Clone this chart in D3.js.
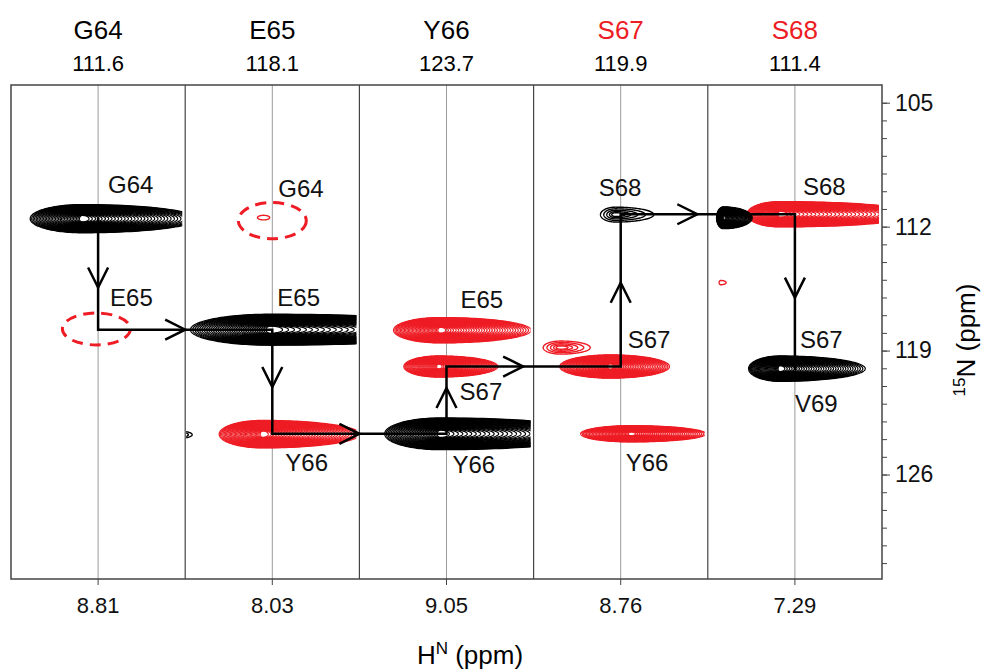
<!DOCTYPE html>
<html>
<head>
<meta charset="utf-8">
<script src="https://cdn.jsdelivr.net/npm/d3@7"></script>
<style>
  body { margin: 0; background: #fff; }
  text { font-family: "Liberation Sans", Arial, sans-serif; }
</style>
</head>
<body>
<div id="chart"></div>
<script>
// Strip (residue) data
const residues = ["G64", "E65", "Y66", "S67", "S68"];
const residueN = [111.6, 118.1, 123.7, 119.9, 111.4];
const residueH = [8.81, 8.03, 9.05, 8.76, 7.29];
const highlighted = ["S67", "S68"];

// Y axis ticks (15N, ppm)
const nTicks = [105, 112, 119, 126];

// Cross peaks: strip index, HN centre, 15N centre, extent left/right (HN ppm), half height (15N ppm)
const peaks = [
  { strip: 0, h: 8.90, n: 111.55, left: 0.30, right: 0.66, half: 0.80, kind: "black" },
  { strip: 1, h: 8.04, n: 117.82, left: 0.46, right: 1.20, half: 0.88, kind: "black" },
  { strip: 1, h: 8.085, n: 123.72, left: 0.25, right: 0.56, half: 0.78, kind: "red" },
  { strip: 1, h: 8.59, n: 123.75, left: 0.10, right: 0.10, half: 0.23, kind: "black", weak: true },
  { strip: 1, h: 8.08, n: 111.49, left: 0.035, right: 0.035, half: 0.13, kind: "red", weak: true },
  { strip: 2, h: 9.084, n: 117.85, left: 0.27, right: 0.52, half: 0.72, kind: "red" },
  { strip: 2, h: 9.095, n: 119.9, left: 0.20, right: 0.34, half: 0.60, kind: "red" },
  { strip: 2, h: 9.085, n: 123.7, left: 0.32, right: 0.90, half: 0.90, kind: "black" },
  { strip: 3, h: 8.79, n: 111.32, left: 0.086, right: 0.22, half: 0.42, kind: "black", weak: true },
  { strip: 3, h: 8.82, n: 119.9, left: 0.29, right: 0.34, half: 0.66, kind: "red" },
  { strip: 3, h: 9.105, n: 118.83, left: 0.10, right: 0.17, half: 0.37, kind: "red", weak: true },
  { strip: 3, h: 8.70, n: 123.7, left: 0.29, right: 0.43, half: 0.46, kind: "red" },
  { strip: 4, h: 7.376, n: 111.3, left: 0.19, right: 0.80, half: 0.72, kind: "red" },
  { strip: 4, h: 7.70, n: 111.5, left: 0.04, right: 0.165, half: 0.62, kind: "black" },
  { strip: 4, h: 7.715, n: 115.16, left: 0.01, right: 0.03, half: 0.12, kind: "red", weak: true },
  { strip: 4, h: 7.376, n: 120.02, left: 0.18, right: 0.49, half: 0.72, kind: "black" }
];

// Missing (expected) peaks, dashed circles
const missing = [
  { strip: 0, h: 8.82, n: 117.78, rx: 0.195, ry: 0.90 },
  { strip: 1, h: 8.03, n: 111.66, rx: 0.195, ry: 1.02 }
];

// Sequential walk (strip, HN, 15N) and where along each leg the arrowhead sits
const walk = [
  [0, 8.81, 111.55], [0, 8.81, 117.82], [1, 8.03, 117.82], [1, 8.03, 123.7],
  [2, 9.05, 123.7], [2, 9.05, 119.9], [3, 8.76, 119.9], [3, 8.76, 111.3],
  [4, 7.29, 111.3], [4, 7.29, 120.02]
];
const arrowAt = [0.62, 0.5, 0.55, 0.5, 0.68, 0.44, 0.55, 0.44, 0.54];

// Peak labels: strip, text, HN (text start), 15N (baseline)
const labels = [
  [0, "G64", 8.753, 110.08], [0, "E65", 8.741, 116.46],
  [1, "G64", 7.996, 110.31], [1, "E65", 8.001, 116.46], [1, "Y66", 7.955, 125.78],
  [2, "E65", 8.97, 116.58], [2, "S67", 8.975, 121.77], [2, "Y66", 9.016, 125.9],
  [3, "S68", 8.886, 110.25], [3, "S67", 8.72, 118.83], [3, "Y66", 8.731, 125.78],
  [4, "S68", 7.244, 110.19], [4, "S67", 7.261, 118.83], [4, "V69", 7.29, 122.45]
];

const width = 985, height = 672;
const plot = { left: 11, right: 882, top: 85, bottom: 579 };
const red = "#ee1c24";
const colour = d3.scaleOrdinal().domain(["black", "red"]).range(["#000", red]);

const svg = d3.select("#chart").append("svg")
  .attr("width", width)
  .attr("height", height);

const stripBand = d3.scaleBand()
  .domain(d3.range(residues.length))
  .range([plot.left, plot.right]);
const bw = stripBand.bandwidth();

// each strip shows 1 ppm of HN, high ppm on the left
const xStrip = residueH.map((hn, i) => d3.scaleLinear()
  .domain([hn + 0.5, hn - 0.5])
  .range([stripBand(i), stripBand(i) + bw]));

const y = d3.scaleLinear().domain([104, 131.9]).range([plot.top, plot.bottom]);

// clip each strip
const defs = svg.append("defs");
residues.forEach((r, i) => {
  defs.append("clipPath").attr("id", "clip" + i)
    .append("rect")
    .attr("x", stripBand(i) + 1)
    .attr("y", plot.top)
    .attr("width", bw - 4)
    .attr("height", plot.bottom - plot.top);
});

// centre lines and strip dividers
svg.append("g").selectAll("line")
  .data(residueH)
  .join("line")
  .attr("x1", (d, i) => xStrip[i](d))
  .attr("x2", (d, i) => xStrip[i](d))
  .attr("y1", plot.top).attr("y2", plot.bottom)
  .attr("stroke", "#9a9a9a").attr("stroke-width", 1);

svg.append("g").selectAll("line")
  .data(d3.range(1, residues.length))
  .join("line")
  .attr("x1", d => stripBand(d)).attr("x2", d => stripBand(d))
  .attr("y1", plot.top).attr("y2", plot.bottom)
  .attr("stroke", "#444").attr("stroke-width", 1.2);

// contour levels: many evenly spaced for strong peaks, a handful for weak ones
const strongLevels = d3.range(34).map(k => 1 - k / 35);
const weakLevels = [1, 0.78, 0.58, 0.4, 0.25];
const tinyLevels = [1];

function contour(p, s) {
  const xs = xStrip[p.strip];
  const cx = xs(p.h), cy = y(p.n);
  const L = cx - xs(p.h + p.left);
  const R = xs(p.h - p.right) - cx;
  const H = y(p.n + p.half) - cy;
  const hk = p.weak ? H * s : H * (0.18 + 0.82 * s);
  const pts = d3.range(0, 161).map(j => {
    const t = j / 160 * 2 * Math.PI;
    const c = Math.cos(t), sn = Math.sin(t);
    return [cx + (c < 0 ? L : R) * s * c, cy + hk * sn];
  });
  return d3.line()(pts) + "Z";
}

const peakG = svg.append("g");
peaks.forEach(p => {
  const g = peakG.append("g").attr("clip-path", `url(#clip${p.strip})`);
  const lv = !p.weak ? strongLevels : (p.half < 0.2 ? tinyLevels : weakLevels);
  g.selectAll("path")
    .data(lv)
    .join("path")
    .attr("d", s => contour(p, s))
    .attr("fill", "none")
    .attr("stroke", colour(p.kind))
    .attr("stroke-width", p.weak ? 1.4 : 1.2);
});

// dashed circles for missing peaks
svg.append("g").selectAll("ellipse")
  .data(missing)
  .join("ellipse")
  .attr("cx", d => xStrip[d.strip](d.h))
  .attr("cy", d => y(d.n))
  .attr("rx", d => xStrip[d.strip](d.h - d.rx) - xStrip[d.strip](d.h))
  .attr("ry", d => y(d.n + d.ry) - y(d.n))
  .attr("fill", "none")
  .attr("stroke", red)
  .attr("stroke-width", 3)
  .attr("stroke-dasharray", "11,7");

// sequential walk with arrowheads
const walkPts = walk.map(([s, h, n]) => [xStrip[s](h), y(n)]);
const arrowG = svg.append("g")
  .attr("stroke", "#000").attr("stroke-width", 2.5).attr("fill", "none")
  .attr("stroke-linecap", "square");
arrowG.append("path").attr("d", d3.line()(walkPts));

d3.pairs(walkPts).forEach(([a, b], i) => {
  const f = arrowAt[i];
  const tx = a[0] + (b[0] - a[0]) * f, ty = a[1] + (b[1] - a[1]) * f;
  const len = Math.hypot(b[0] - a[0], b[1] - a[1]);
  const ux = (b[0] - a[0]) / len, uy = (b[1] - a[1]) / len;
  const back = 20, spread = 10;
  arrowG.append("path")
    .attr("stroke-linecap", "butt")
    .attr("d", d3.line()([
      [tx - ux * back - uy * spread, ty - uy * back + ux * spread],
      [tx, ty],
      [tx - ux * back + uy * spread, ty - uy * back - ux * spread]
    ]));
});

// peak labels
svg.append("g").selectAll("text")
  .data(labels)
  .join("text")
  .attr("x", d => xStrip[d[0]](d[2]))
  .attr("y", d => y(d[3]))
  .attr("font-size", 24)
  .attr("fill", "#111")
  .text(d => d[1]);

// frame
svg.append("rect")
  .attr("x", plot.left).attr("y", plot.top)
  .attr("width", plot.right - plot.left).attr("height", plot.bottom - plot.top)
  .attr("fill", "none").attr("stroke", "#444").attr("stroke-width", 1.5);

// header: residue names and 15N shifts
const head = svg.append("g").attr("text-anchor", "middle");
head.selectAll("text.name")
  .data(residues)
  .join("text").attr("class", "name")
  .attr("x", (d, i) => stripBand(i) + bw / 2)
  .attr("y", 39)
  .attr("font-size", 26)
  .attr("fill", d => highlighted.includes(d) ? red : "#000")
  .text(d => d);
head.selectAll("text.val")
  .data(residueN)
  .join("text").attr("class", "val")
  .attr("x", (d, i) => stripBand(i) + bw / 2)
  .attr("y", 71)
  .attr("font-size", 22)
  .text(d => d.toFixed(1));

// bottom axis (HN of each strip)
const xAxis = svg.append("g")
  .attr("transform", `translate(0,${plot.bottom})`)
  .call(d3.axisBottom(stripBand).tickSize(6).tickPadding(12)
    .tickFormat(i => residueH[i].toFixed(2)));
xAxis.select(".domain").remove();
xAxis.selectAll("line").attr("stroke", "#444");
xAxis.selectAll("text").attr("font-size", 22).attr("fill", "#111")
  .attr("font-family", "Liberation Sans, Arial, sans-serif");

// right axis (15N)
const yMinor = svg.append("g")
  .attr("transform", `translate(${plot.right},0)`)
  .call(d3.axisRight(y).tickValues(d3.range(105, 132)).tickSize(5).tickFormat(""));
yMinor.select(".domain").remove();
yMinor.selectAll("line").attr("stroke", "#444");

const yAxis = svg.append("g")
  .attr("transform", `translate(${plot.right},0)`)
  .call(d3.axisRight(y).tickValues(nTicks).tickSize(8).tickPadding(5));
yAxis.select(".domain").remove();
yAxis.selectAll("line").attr("stroke", "#444");
yAxis.selectAll("text").attr("font-size", 23).attr("fill", "#111")
  .attr("font-family", "Liberation Sans, Arial, sans-serif");

// axis titles
const xTitle = svg.append("text")
  .attr("x", 470).attr("y", 664)
  .attr("text-anchor", "middle")
  .attr("font-size", 26);
xTitle.append("tspan").text("H");
xTitle.append("tspan").attr("font-size", 17).attr("dy", -10).text("N");
xTitle.append("tspan").attr("dy", 10).text(" (ppm)");

const yTitle = svg.append("text")
  .attr("transform", "translate(975,340) rotate(-90)")
  .attr("text-anchor", "middle")
  .attr("font-size", 26);
yTitle.append("tspan").attr("font-size", 17).attr("dy", -10).text("15");
yTitle.append("tspan").attr("dy", 10).text("N (ppm)");
</script>
</body>
</html>
